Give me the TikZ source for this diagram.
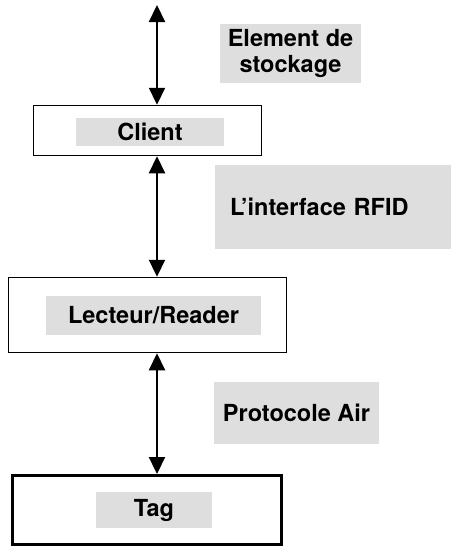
\documentclass[tikz,border=0pt]{standalone}
\usepackage{fontspec}
\setmainfont{TeX Gyre Heros}
\usetikzlibrary{arrows.meta}

\begin{document}
\begin{tikzpicture}[x=1pt,y=-1pt,
    box/.style={draw,line width=1.5pt,inner sep=0pt},
    greylabel/.style={fill=black!13,inner sep=0pt,align=center,
        font=\fontsize{23.5}{26}\selectfont\bfseries},
    link/.style={line width=2.2pt,
        {Triangle[length=17pt,width=16pt]}-{Triangle[length=17pt,width=16pt]}}]
\useasboundingbox (0,0) rectangle (458,558);
% the three blocks
\draw
    (147.5,130.5) node [box,minimum width=228pt,minimum height=50pt] (client) {}
    (147.5,315) node [box,minimum width=278pt,minimum height=75pt] (reader) {}
    (147,510) node [box,line width=3pt,minimum width=269pt,minimum height=69pt] (tag) {};
% names inside the blocks
\path
    (150,132) node [greylabel,minimum width=148pt,minimum height=28pt] (clientname) {Client}
    (153.5,315.5) node [greylabel,minimum width=215pt,minimum height=39pt] (readername) {Lecteur/Reader}
    (154,510) node [greylabel,minimum width=116pt,minimum height=36pt] (tagname) {Tag};
% interfaces
\path
    (290.5,53.5) node [greylabel,minimum width=141pt,minimum height=59pt] (storage) {Element de\\stockage}
    (333,207) node [greylabel,align=left,text width=206pt,inner xsep=15pt,minimum height=84pt] (rfid) {L’interface RFID}
    (296.5,413) node [greylabel,minimum width=165pt,minimum height=62pt] (air) {Protocole Air};
\coordinate (top) at (157,5);
\draw [link] (top) -- (top |- client.north);
\draw [link] (top |- client.south) -- (top |- reader.north);
\draw [link] (top |- reader.south) -- (top |- tag.north);
\end{tikzpicture}
\end{document}
